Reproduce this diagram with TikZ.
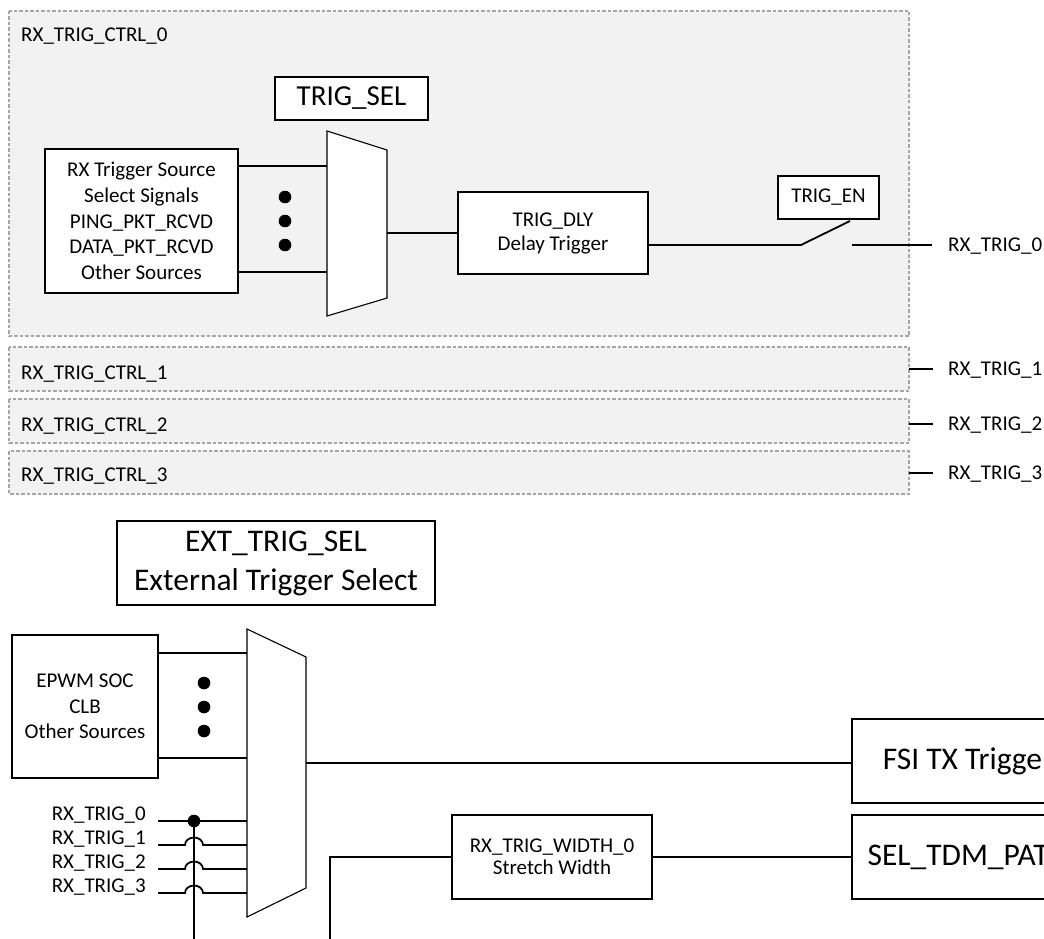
\documentclass[tikz,border=0pt]{standalone}
\usepackage{fontspec}
\setmainfont{Carlito}
\definecolor{ctrlfill}{HTML}{F2F2F2}
\definecolor{ctrlline}{HTML}{A6A6A6}
\tikzset{
  body/.style={font=\fontsize{21}{25.7}\selectfont},
  big/.style={font=\fontsize{31.5}{39}\selectfont},
  blk/.style={draw=black, line width=1.8pt, fill=white, inner sep=0pt, align=center},
  wire/.style={draw=black, line width=1.8pt},
  muxs/.style={draw=black, line width=1.1pt, fill=white},
  ctrl/.style={draw=ctrlline, fill=ctrlfill, line width=1.4pt, dash pattern=on 3.5pt off 2pt},
  lbl/.style={body, inner sep=0pt, text height=13.5pt, text depth=0pt},
  dotc/.style={fill=black, circle, inner sep=0pt, minimum size=12.6pt},
}
\begin{document}
\begin{tikzpicture}[x=1pt,y=-1pt]
\useasboundingbox (0,0) rectangle (1044,939);
\clip (0,0) rectangle (1044,939);
\fill[white] (0,0) rectangle (1044,939);

% control groups
\draw[ctrl] (9,11) rectangle (909,336);
\draw[ctrl] (9,347) rectangle (909,391);
\draw[ctrl] (9,399) rectangle (909,443);
\draw[ctrl] (9,451) rectangle (909,494);
\node[body, inner sep=0pt, anchor=base west] (c0) at (21,42) {RX\_TRIG\_CTRL\_0};
\node[body, inner sep=0pt, anchor=base west] (c1) at (21,379) {RX\_TRIG\_CTRL\_1};
\node[body, inner sep=0pt, anchor=base west] (c2) at (21,431) {RX\_TRIG\_CTRL\_2};
\node[body, inner sep=0pt, anchor=base west] (c3) at (21,481.5) {RX\_TRIG\_CTRL\_3};

% ---------- top section ----------
\node[blk, font=\fontsize{29}{35}\selectfont, minimum width=153pt, minimum height=43pt] (tsel) at (351.5,98.5) {TRIG\_SEL};
\node[blk, body, minimum width=193pt, minimum height=144pt] (src) at (141.5,221)
  {RX Trigger Source\\Select Signals\\PING\_PKT\_RCVD\\DATA\_PKT\_RCVD\\Other Sources};
\path[muxs] (327,131) -- (387,150) -- (387,298) -- (327,316) -- cycle;
\coordinate (m1a) at (327,166);
\coordinate (m1b) at (327,272);
\coordinate (m1o) at (387,233);
\draw[wire] (src.east |- m1a) -- (m1a);
\draw[wire] (src.east |- m1b) -- (m1b);
\node[dotc] (d1) at (285,197) {};
\node[dotc] (d2) at (285,221) {};
\node[dotc] (d3) at (285,245) {};

\node[blk, font=\fontsize{21}{24}\selectfont, minimum width=190pt, minimum height=82pt] (dly) at (553,233) {TRIG\_DLY\\Delay Trigger};
\draw[wire] (m1o) -- (dly.west);

\node[blk, body, minimum width=101pt, minimum height=43pt] (ten) at (828.5,197.5) {TRIG\_EN};
\coordinate (sw1) at (801,245);
\coordinate (sw2) at (850,221);
\coordinate (sw3) at (852,245);
\coordinate (o0) at (932,245);
\draw[wire] (dly.east |- sw1) -- (sw1) -- (sw2);
\draw[wire] (sw3) -- (o0);
\node[lbl, anchor=west] (r0) at (948,245) {RX\_TRIG\_0};

\coordinate (e1) at (909,369);
\coordinate (e2) at (909,424);
\coordinate (e3) at (909,473);
\draw[wire] (e1) -- ++(24,0);
\draw[wire] (e2) -- ++(24,0);
\draw[wire] (e3) -- ++(24,0);
\node[lbl, anchor=west] (r1) at (948,369) {RX\_TRIG\_1};
\node[lbl, anchor=west] (r2) at (948,424) {RX\_TRIG\_2};
\node[lbl, anchor=west] (r3) at (948,473) {RX\_TRIG\_3};

% ---------- bottom section ----------
\node[blk, big, minimum width=318pt, minimum height=84pt] (ext) at (276,563) {EXT\_TRIG\_SEL\\External Trigger Select};
\node[blk, body, minimum width=146pt, minimum height=143pt] (epwm) at (85,706.5) {EPWM SOC\\CLB\\Other Sources};
\path[muxs] (247,629) -- (306,657) -- (306,888) -- (247,917) -- cycle;
\coordinate (m2a) at (247,653);
\coordinate (m2b) at (247,758);
\coordinate (m2o) at (306,763);
\draw[wire] (epwm.east |- m2a) -- (m2a);
\draw[wire] (epwm.east |- m2b) -- (m2b);
\node[dotc] (d4) at (204,683) {};
\node[dotc] (d5) at (204,707) {};
\node[dotc] (d6) at (204,731) {};

\node[blk, big, minimum width=232pt, minimum height=84pt] (fsi) at (968,761) {FSI TX Trigger};
\node[blk, big, minimum width=232pt, minimum height=84pt] (tdm) at (968,857) {SEL\_TDM\_PATH};
\draw[wire] (m2o) -- (m2o -| fsi.west);

\node[blk, font=\fontsize{21}{22}\selectfont, minimum width=200pt, minimum height=84pt] (wid) at (552,857) {RX\_TRIG\_WIDTH\_0\\Stretch Width};
\coordinate (wend) at (330,939);
\draw[wire] (wend) |- (wid.west);
\draw[wire] (wid.east) -- (tdm.west);

% RX_TRIG inputs
\node[body, inner sep=0pt, anchor=base east] (t0) at (146,820) {RX\_TRIG\_0};
\node[body, inner sep=0pt, anchor=base east] (t1) at (146,844) {RX\_TRIG\_1};
\node[body, inner sep=0pt, anchor=base east] (t2) at (146,868) {RX\_TRIG\_2};
\node[body, inner sep=0pt, anchor=base east] (t3) at (146,892) {RX\_TRIG\_3};
\coordinate (i0) at (158,821);
\coordinate (i1) at (158,845);
\coordinate (i2) at (158,869);
\coordinate (i3) at (158,893);
\coordinate (p0) at (247,821);
\coordinate (p1) at (247,845);
\coordinate (p2) at (247,869);
\coordinate (p3) at (247,893);
\draw[wire] (i0) -- (p0);
\draw[wire] (i1) -- ++(27,0) arc[start angle=180, end angle=360, x radius=9, y radius=7.5] -- (p1);
\draw[wire] (i2) -- ++(27,0) arc[start angle=180, end angle=360, x radius=9, y radius=7.5] -- (p2);
\draw[wire] (i3) -- ++(27,0) arc[start angle=180, end angle=360, x radius=9, y radius=7.5] -- (p3);
\coordinate (bus) at (194,821);
\coordinate (busend) at (194,939);
\draw[wire] (bus) -- (busend);
\node[dotc] (jd) at (bus) {};
\end{tikzpicture}
\end{document}
